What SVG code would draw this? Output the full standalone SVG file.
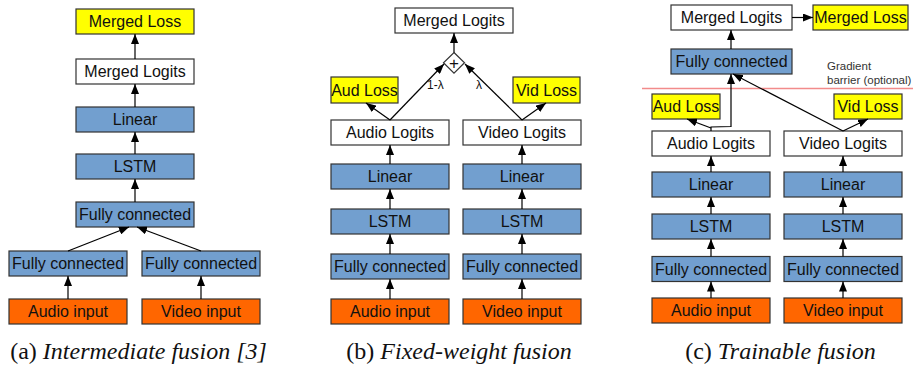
<svg xmlns="http://www.w3.org/2000/svg" width="913" height="368" viewBox="0 0 913 368">
<style>
.box{stroke:#333;stroke-width:1.2}
.blue{fill:#729fcf}.white{fill:#fff}.yellow{fill:#ffff00}.orange{fill:#ff6600}
.lbl{font-family:"Liberation Sans",Arial,sans-serif;font-size:16px;fill:#111;text-anchor:middle;dominant-baseline:central}
.cn{fill:none;stroke:#000;stroke-width:1.2;marker-end:url(#ah)}
.cap{font-family:"Liberation Serif","Times New Roman",serif;font-size:24px;fill:#111;text-anchor:middle}
.sm{font-family:"Liberation Sans",Arial,sans-serif;font-size:12px;fill:#111}
</style>
<defs>
<marker id="ah" markerWidth="10" markerHeight="8" refX="10" refY="4" orient="auto" markerUnits="userSpaceOnUse"><path d="M0,0 L10,4 L0,8 z" fill="#000"/></marker>
</defs>
<rect width="913" height="368" fill="#fff"/>

<!-- Panel (a) -->
<g id="a-merged-loss"><rect class="box yellow" x="76" y="9" width="118" height="25"/><text class="lbl" x="135" y="21.5">Merged Loss</text></g>
<g id="a-merged-logits"><rect class="box white" x="76" y="59" width="118" height="25"/><text class="lbl" x="135" y="71.5">Merged Logits</text></g>
<g id="a-linear"><rect class="box blue" x="76" y="107" width="118" height="25"/><text class="lbl" x="135" y="119.5">Linear</text></g>
<g id="a-lstm"><rect class="box blue" x="76" y="154" width="118" height="25"/><text class="lbl" x="135" y="166.5">LSTM</text></g>
<g id="a-fc"><rect class="box blue" x="76" y="202" width="118" height="25"/><text class="lbl" x="135" y="214.5">Fully connected</text></g>
<g id="a-fc-audio"><rect class="box blue" x="9" y="251" width="118" height="25"/><text class="lbl" x="68" y="263.5">Fully connected</text></g>
<g id="a-fc-video"><rect class="box blue" x="142" y="251" width="118" height="25"/><text class="lbl" x="201" y="263.5">Fully connected</text></g>
<g id="a-audio-input"><rect class="box orange" x="9" y="299" width="118" height="25"/><text class="lbl" x="68" y="311.5">Audio input</text></g>
<g id="a-video-input"><rect class="box orange" x="142" y="299" width="118" height="25"/><text class="lbl" x="201" y="311.5">Video input</text></g>
<text class="cap" x="138.5" y="359">(a) <tspan font-style="italic">Intermediate fusion [3]</tspan></text>

<!-- Panel (b) -->
<g id="b-merged-logits"><rect class="box white" x="395" y="8" width="118" height="25"/><text class="lbl" x="454" y="20.5">Merged Logits</text></g>
<g id="b-sum"><path class="box white" d="M454,52.5 L464.5,62.8 L454,73.2 L443.5,62.8 z"/><text class="lbl" x="454" y="63" style="font-size:17px">+</text></g>
<g id="b-aud-loss"><rect class="box yellow" x="331" y="77" width="67" height="26"/><text class="lbl" x="364.5" y="90">Aud Loss</text></g>
<g id="b-vid-loss"><rect class="box yellow" x="513" y="77" width="67" height="26"/><text class="lbl" x="546.5" y="90">Vid Loss</text></g>
<g id="b-audio-logits"><rect class="box white" x="331" y="120" width="118" height="25"/><text class="lbl" x="390" y="132.5">Audio Logits</text></g>
<g id="b-video-logits"><rect class="box white" x="463" y="120" width="118" height="25"/><text class="lbl" x="522" y="132.5">Video Logits</text></g>
<g id="b-linear-a"><rect class="box blue" x="331" y="164" width="118" height="25"/><text class="lbl" x="390" y="176.5">Linear</text></g>
<g id="b-linear-v"><rect class="box blue" x="463" y="164" width="118" height="25"/><text class="lbl" x="522" y="176.5">Linear</text></g>
<g id="b-lstm-a"><rect class="box blue" x="331" y="209" width="118" height="25"/><text class="lbl" x="390" y="221.5">LSTM</text></g>
<g id="b-lstm-v"><rect class="box blue" x="463" y="209" width="118" height="25"/><text class="lbl" x="522" y="221.5">LSTM</text></g>
<g id="b-fc-a"><rect class="box blue" x="331" y="254" width="118" height="25"/><text class="lbl" x="390" y="266.5">Fully connected</text></g>
<g id="b-fc-v"><rect class="box blue" x="463" y="254" width="118" height="25"/><text class="lbl" x="522" y="266.5">Fully connected</text></g>
<g id="b-audio-input"><rect class="box orange" x="331" y="299" width="118" height="25"/><text class="lbl" x="390" y="311.5">Audio input</text></g>
<g id="b-video-input"><rect class="box orange" x="463" y="299" width="118" height="25"/><text class="lbl" x="522" y="311.5">Video input</text></g>
<text class="sm" x="427" y="89">1-λ</text>
<text class="sm" x="476" y="89">λ</text>
<text class="cap" x="459" y="359">(b) <tspan font-style="italic">Fixed-weight fusion</tspan></text>

<!-- Panel (c) -->
<line x1="642" y1="88.5" x2="913" y2="88.5" stroke="#f28b8b" stroke-width="1.6"/>
<text class="sm" style="font-size:11.5px;fill:#333"><tspan x="827" y="70">Gradient</tspan><tspan x="827" y="84">barrier (optional)</tspan></text>
<g id="c-merged-logits"><rect class="box white" x="671" y="5" width="121" height="25"/><text class="lbl" x="731.5" y="17.5">Merged Logits</text></g>
<g id="c-merged-loss"><rect class="box yellow" x="813" y="5" width="95" height="25"/><text class="lbl" x="860.5" y="17.5">Merged Loss</text></g>
<g id="c-fc"><rect class="box blue" x="671" y="49" width="121" height="25"/><text class="lbl" x="731.5" y="61.5">Fully connected</text></g>
<g id="c-aud-loss"><rect class="box yellow" x="652" y="94" width="68" height="25"/><text class="lbl" x="686" y="106.5">Aud Loss</text></g>
<g id="c-vid-loss"><rect class="box yellow" x="834" y="94" width="68" height="25"/><text class="lbl" x="868" y="106.5">Vid Loss</text></g>
<g id="c-audio-logits"><rect class="box white" x="652" y="131" width="118" height="25"/><text class="lbl" x="711" y="143.5">Audio Logits</text></g>
<g id="c-video-logits"><rect class="box white" x="784" y="131" width="118" height="25"/><text class="lbl" x="843" y="143.5">Video Logits</text></g>
<g id="c-linear-a"><rect class="box blue" x="652" y="172" width="118" height="25"/><text class="lbl" x="711" y="184.5">Linear</text></g>
<g id="c-linear-v"><rect class="box blue" x="784" y="172" width="118" height="25"/><text class="lbl" x="843" y="184.5">Linear</text></g>
<g id="c-lstm-a"><rect class="box blue" x="652" y="214" width="118" height="25"/><text class="lbl" x="711" y="226.5">LSTM</text></g>
<g id="c-lstm-v"><rect class="box blue" x="784" y="214" width="118" height="25"/><text class="lbl" x="843" y="226.5">LSTM</text></g>
<g id="c-fc-a"><rect class="box blue" x="652" y="256.5" width="118" height="25"/><text class="lbl" x="711" y="269">Fully connected</text></g>
<g id="c-fc-v"><rect class="box blue" x="784" y="256.5" width="118" height="25"/><text class="lbl" x="843" y="269">Fully connected</text></g>
<g id="c-audio-input"><rect class="box orange" x="652" y="298" width="118" height="25"/><text class="lbl" x="711" y="310.5">Audio input</text></g>
<g id="c-video-input"><rect class="box orange" x="784" y="298" width="118" height="25"/><text class="lbl" x="843" y="310.5">Video input</text></g>
<text class="cap" x="780.5" y="359">(c) <tspan font-style="italic">Trainable fusion</tspan></text>

<g id="connectors">
<!-- a -->
<line class="cn" x1="135" y1="59" x2="135" y2="34"/>
<line class="cn" x1="135" y1="107" x2="135" y2="84"/>
<line class="cn" x1="135" y1="154" x2="135" y2="132"/>
<line class="cn" x1="135" y1="202" x2="135" y2="179"/>
<line class="cn" x1="68" y1="251" x2="129" y2="227"/>
<line class="cn" x1="201" y1="251" x2="137" y2="227"/>
<line class="cn" x1="68" y1="299" x2="68" y2="276"/>
<line class="cn" x1="201" y1="299" x2="201" y2="276"/>
<!-- b -->
<line class="cn" x1="454" y1="52.5" x2="454" y2="33"/>
<line class="cn" x1="390" y1="120" x2="444" y2="64"/>
<line class="cn" x1="522" y1="120" x2="465" y2="64"/>
<line class="cn" x1="390" y1="120" x2="366" y2="103"/>
<line class="cn" x1="522" y1="120" x2="546" y2="103"/>
<line class="cn" x1="390" y1="164" x2="390" y2="145"/>
<line class="cn" x1="522" y1="164" x2="522" y2="145"/>
<line class="cn" x1="390" y1="209" x2="390" y2="189"/>
<line class="cn" x1="522" y1="209" x2="522" y2="189"/>
<line class="cn" x1="390" y1="254" x2="390" y2="234"/>
<line class="cn" x1="522" y1="254" x2="522" y2="234"/>
<line class="cn" x1="390" y1="299" x2="390" y2="279"/>
<line class="cn" x1="522" y1="299" x2="522" y2="279"/>
<!-- c -->
<line class="cn" x1="792" y1="17.5" x2="813" y2="17.5"/>
<line class="cn" x1="731" y1="49" x2="731" y2="30"/>
<path class="cn" d="M711,131 L711,127 L731,126.5 L731,74"/>
<line class="cn" x1="711" y1="128" x2="687" y2="119"/>
<line class="cn" x1="843" y1="131" x2="733" y2="74"/>
<line class="cn" x1="843" y1="131" x2="868" y2="119"/>
<line class="cn" x1="711" y1="172" x2="711" y2="156"/>
<line class="cn" x1="843" y1="172" x2="843" y2="156"/>
<line class="cn" x1="711" y1="214" x2="711" y2="197"/>
<line class="cn" x1="843" y1="214" x2="843" y2="197"/>
<line class="cn" x1="711" y1="256.5" x2="711" y2="239"/>
<line class="cn" x1="843" y1="256.5" x2="843" y2="239"/>
<line class="cn" x1="711" y1="298" x2="711" y2="281.5"/>
<line class="cn" x1="843" y1="298" x2="843" y2="281.5"/>
</g>
</svg>
